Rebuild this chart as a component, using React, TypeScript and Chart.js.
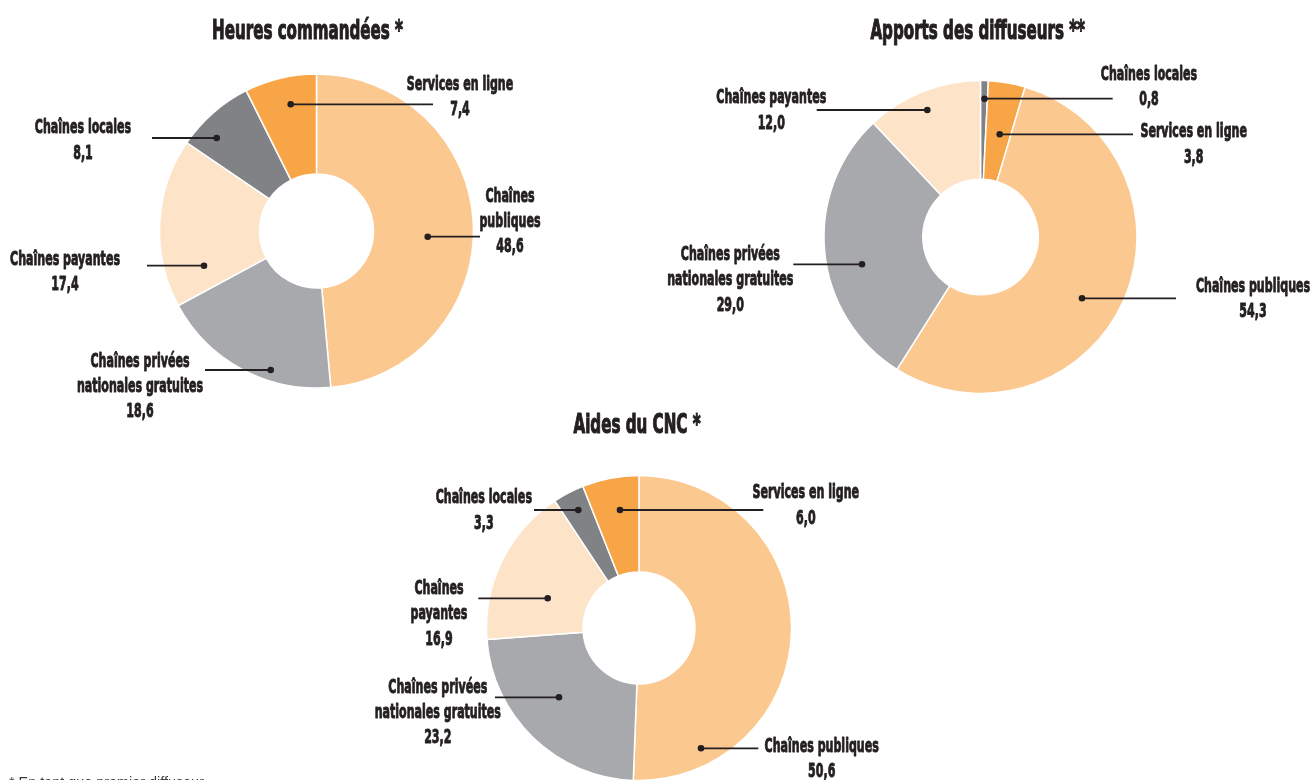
import React, { useEffect, useRef } from 'react';
import { Chart, registerables } from 'chart.js';

Chart.register(...registerables);

// ---------- Data ----------
const heuresTitle = 'Heures commandées *';
const heuresCategories = [
  'Chaînes publiques',
  'Chaînes privées nationales gratuites',
  'Chaînes payantes',
  'Chaînes locales',
  'Services en ligne',
];
const heuresValues = [48.6, 18.6, 17.4, 8.1, 7.4];

const apportsTitle = 'Apports des diffuseurs **';
const apportsCategories = [
  'Chaînes locales',
  'Services en ligne',
  'Chaînes publiques',
  'Chaînes privées nationales gratuites',
  'Chaînes payantes',
];
const apportsValues = [0.8, 3.8, 54.3, 29.0, 12.0];

const aidesTitle = 'Aides du CNC *';
const aidesCategories = [
  'Chaînes publiques',
  'Chaînes privées nationales gratuites',
  'Chaînes payantes',
  'Chaînes locales',
  'Services en ligne',
];
const aidesValues = [50.6, 23.2, 16.9, 3.3, 6.0];

const footnote = '* En tant que premier diffuseur';

// ---------- Styles ----------
const categoryColors: Record<string, string> = {
  'Chaînes publiques': '#FBC990',
  'Chaînes privées nationales gratuites': '#A7A9AC',
  'Chaînes payantes': '#FDE4C9',
  'Chaînes locales': '#808285',
  'Services en ligne': '#F7A547',
};

const TEXT_COLOR = '#231F20';
const FONT_STACK = "'Liberation Sans Narrow', 'DejaVu Sans Condensed', Roboto, sans-serif";
const LABEL_FONT = `bold 20px ${FONT_STACK}`;
const TITLE_FONT = `bold 26px ${FONT_STACK}`;
const LINE_GAP = 25.3;

const W = 1312;
const H = 780;

type LabelLayout = {
  idx: number;
  lines: string[];
  dot: [number, number];
  lineTo: number;
  text: [number, number];
};

type Panel = {
  title: string;
  categories: string[];
  values: number[];
  geom: { cx: number; cy: number; r: number; canvasH: number; cutout: string };
  titlePos: [number, number];
  labels: LabelLayout[];
};

const panels: Panel[] = [
  {
    title: heuresTitle,
    categories: heuresCategories,
    values: heuresValues,
    geom: { cx: 316.5, cy: 231, r: 157, canvasH: H, cutout: '36.3%' },
    titlePos: [-9, -192],
    labels: [
      { idx: 0, lines: ['Chaînes', 'publiques'], dot: [111.2, 5.7], lineTo: 163.5, text: [193.5, -29.3] },
      { idx: 1, lines: ['Chaînes privées', 'nationales gratuites'], dot: [-45.8, 139], lineTo: -111.5, text: [-176.5, 135.7] },
      { idx: 2, lines: ['Chaînes payantes'], dot: [-112.5, 34.7], lineTo: -169.5, text: [-251.5, 34] },
      { idx: 3, lines: ['Chaînes locales'], dot: [-99.8, -93], lineTo: -164.5, text: [-233.5, -97.7] },
      { idx: 4, lines: ['Services en ligne'], dot: [-25.8, -126.7], lineTo: 116.5, text: [143.5, -141] },
    ],
  },
  {
    title: apportsTitle,
    categories: apportsCategories,
    values: apportsValues,
    geom: { cx: 980.5, cy: 237, r: 156.5, canvasH: H, cutout: '36.9%' },
    titlePos: [-2.8, -198],
    labels: [
      { idx: 0, lines: ['Chaînes locales'], dot: [4, -138.3], lineTo: 132.2, text: [168.5, -157] },
      { idx: 1, lines: ['Services en ligne'], dot: [19.2, -102.7], lineTo: 152.5, text: [213.2, -99.7] },
      { idx: 2, lines: ['Chaînes publiques'], dot: [101.5, 61.3], lineTo: 195.5, text: [272.5, 54.7] },
      { idx: 3, lines: ['Chaînes privées', 'nationales gratuites'], dot: [-118.5, 27.3], lineTo: -187.2, text: [-250.2, 23] },
      { idx: 4, lines: ['Chaînes payantes'], dot: [-53.2, -127], lineTo: -163.8, text: [-209.2, -133.7] },
    ],
  },
  {
    title: aidesTitle,
    categories: aidesCategories,
    values: aidesValues,
    geom: { cx: 639, cy: 628, r: 152.5, canvasH: 820, cutout: '36.7%' },
    titlePos: [-2, -194.7],
    labels: [
      { idx: 0, lines: ['Chaînes publiques'], dot: [62, 120.3], lineTo: 119.3, text: [182.7, 123.7] },
      { idx: 1, lines: ['Chaînes privées', 'nationales gratuites'], dot: [-80, 69.3], lineTo: -144, text: [-201.2, 64.7] },
      { idx: 2, lines: ['Chaînes', 'payantes'], dot: [-91.3, -29.7], lineTo: -160.7, text: [-200, -34] },
      { idx: 3, lines: ['Chaînes locales'], dot: [-60.7, -118], lineTo: -105, text: [-155.2, -124.7] },
      { idx: 4, lines: ['Services en ligne'], dot: [-19, -118], lineTo: 124.3, text: [166.8, -129.7] },
    ],
  },
];

function fmt(v: number) {
  return v.toFixed(1).replace('.', ',');
}

function drawText(
  ctx: CanvasRenderingContext2D,
  text: string,
  x: number,
  y: number,
  font: string,
  sx: number,
  weight: number
) {
  ctx.save();
  ctx.font = font;
  ctx.translate(x, y);
  ctx.scale(sx, 1);
  ctx.textAlign = 'center';
  ctx.textBaseline = 'alphabetic';
  ctx.lineJoin = 'round';
  ctx.lineWidth = weight;
  ctx.strokeText(text, 0, 0);
  ctx.fillText(text, 0, 0);
  ctx.restore();
}

function makeAnnotPlugin(panel: Panel) {
  return {
    id: 'annot',
    afterDraw(chart: any) {
      const ctx: CanvasRenderingContext2D = chart.ctx;
      const arc = chart.getDatasetMeta(0).data[0];
      const cx = arc.x;
      const cy = arc.y;
      ctx.save();
      ctx.fillStyle = TEXT_COLOR;
      ctx.strokeStyle = TEXT_COLOR;
      // calibrate condensed widths
      ctx.font = LABEL_FONT;
      const ls = 106.5 / ctx.measureText('Services en ligne').width;
      ctx.font = TITLE_FONT;
      const ts = 191 / ctx.measureText('Heures commandées *').width;

      drawText(ctx, panel.title, cx + panel.titlePos[0], cy + panel.titlePos[1], TITLE_FONT, ts, 1.1);

      panel.labels.forEach((l) => {
        const px = cx + l.dot[0];
        const py = cy + l.dot[1];
        ctx.lineWidth = 1.8;
        ctx.beginPath();
        ctx.moveTo(px, py);
        ctx.lineTo(cx + l.lineTo, py);
        ctx.stroke();
        ctx.beginPath();
        ctx.arc(px, py, 3.3, 0, Math.PI * 2);
        ctx.fill();
        const lines = [...l.lines, fmt(panel.values[l.idx])];
        lines.forEach((t, k) => {
          drawText(ctx, t, cx + l.text[0], cy + l.text[1] + k * LINE_GAP, LABEL_FONT, ls, 0.9);
        });
      });
      ctx.restore();
    },
  };
}

function DoughnutPanel({ panel }: { panel: Panel }) {
  const ref = useRef<HTMLCanvasElement | null>(null);
  useEffect(() => {
    if (!ref.current) return;
    const { cx, cy, r, canvasH, cutout } = panel.geom;
    const bw = 1.5;
    const half = r + bw / 2;
    const chart = new Chart(ref.current, {
      type: 'doughnut',
      data: {
        labels: panel.categories,
        datasets: [
          {
            data: panel.values,
            backgroundColor: panel.categories.map((c) => categoryColors[c]),
            borderColor: '#ffffff',
            borderWidth: bw,
            hoverOffset: 0,
          },
        ],
      },
      options: {
        responsive: false,
        animation: false,
        events: [],
        cutout,
        layout: {
          padding: {
            left: cx - half,
            top: cy - half,
            right: W - (cx + half),
            bottom: canvasH - (cy + half),
          },
        },
        plugins: {
          legend: { display: false },
          tooltip: { enabled: false },
          title: { display: false },
        },
      },
      plugins: [makeAnnotPlugin(panel)],
    } as any);
    return () => chart.destroy();
  }, [panel]);
  return (
    <canvas
      ref={ref}
      width={W}
      height={panel.geom.canvasH}
      style={{ position: 'absolute', left: 0, top: 0, width: W, height: panel.geom.canvasH }}
    />
  );
}

export default function App() {
  return (
    <div
      style={{
        position: 'fixed',
        left: 0,
        top: 0,
        width: W,
        height: H,
        overflow: 'hidden',
        background: '#ffffff',
      }}
    >
      {panels.map((p, i) => (
        <DoughnutPanel key={i} panel={p} />
      ))}
      <div
        style={{
          position: 'absolute',
          left: 9,
          top: 775,
          fontFamily: "'Liberation Sans', Arial, sans-serif",
          fontSize: 14.4,
          lineHeight: '14.4px',
          color: '#3c3c3c',
          whiteSpace: 'nowrap',
        }}
      >
        {footnote}
      </div>
    </div>
  );
}
